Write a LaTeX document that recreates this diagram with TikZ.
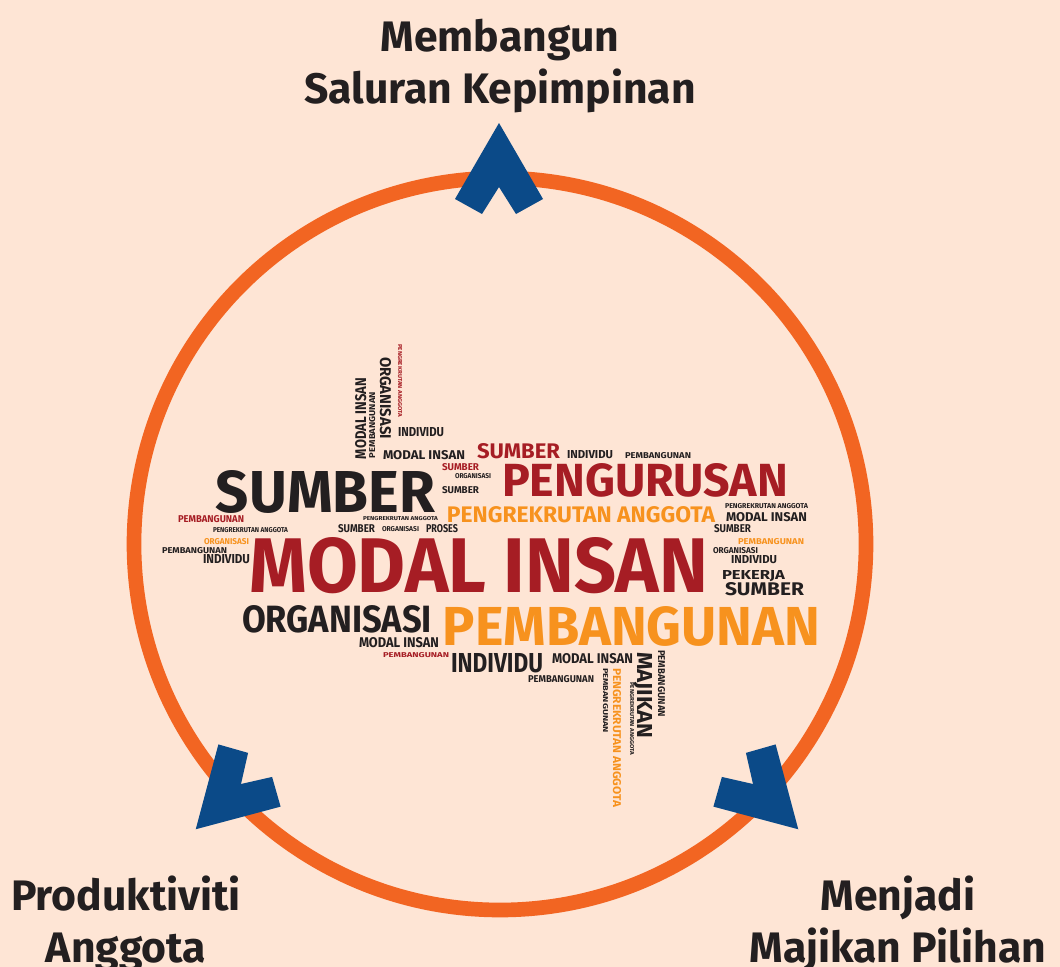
\documentclass[tikz,border=0pt]{standalone}
\usepackage{fontspec}
\setmainfont{Fira Sans}
\usepackage{graphicx}
\definecolor{bgpeach}{HTML}{FEE5D5}
\definecolor{ringorange}{HTML}{F26522}
\definecolor{arrowblue}{HTML}{0B4A88}
\definecolor{cloudred}{HTML}{A61D24}
\definecolor{cloudorange}{HTML}{F7921E}
\definecolor{clouddark}{HTML}{231F20}

\begin{document}
\begin{tikzpicture}[x=0.75pt,y=-0.75pt,
  word/.style={inner sep=0pt,font=\bfseries},
  title/.style={inner sep=0pt,align=center,text=clouddark,font=\bfseries\fontsize{32}{39}\selectfont},
  ring/.style={draw=ringorange,line width=11pt},
  chevron/.style={fill=arrowblue}]
\fill[bgpeach] (0,0) rectangle (1060,967);
\useasboundingbox (0,0) rectangle (1060,967);
% cycle
\draw[ring] (500,544) circle[radius=366];
\foreach \px/\py/\ang in {499/187/0,241/784/135,753/784/-135}
  \fill[chevron,shift={(\px,\py)},rotate=\ang] (0,-64) -- (44,12) -- (17,27) -- (0,0) -- (-17,27) -- (-44,12) -- cycle;
% outcomes
\node[title,anchor=north] (saluran) at (500,19) {Membangun\\Saluran Kepimpinan};
\node[title,anchor=north] (produktiviti) at (126,876) {Produktiviti\\Anggota};
\node[title,anchor=north] (majikan) at (898,876) {Menjadi\\Majikan Pilihan};
% word cloud: left/top/right/bottom of each word
\foreach \nm/\l/\t/\r/\b/\rot/\col/\txt in {
  w1/250/537/708/592/0/cloudred/MODAL INSAN,
  w2/216/470/435/512/0/clouddark/SUMBER,
  w3/502/463/788/496/0/cloudred/PENGURUSAN,
  w4/447/506/715/522/0/cloudorange/PENGREKRUTAN ANGGOTA,
  w5/477/443/560/458/0/cloudred/SUMBER,
  w6/567/450/613/458/0/clouddark/INDIVIDU,
  w7/625/452/691/458/0/clouddark/PEMBANGUNAN,
  w8/383/450/465/459/0/clouddark/MODAL INSAN,
  w9/398/427/444/436/0/clouddark/INDIVIDU,
  w10/442/463/479/470/0/cloudred/SUMBER,
  w11/455/473/491/478/0/clouddark/ORGANISASI,
  w12/442/486/479/493/0/clouddark/SUMBER,
  w13/363/516/438/520/0/clouddark/PENGREKRUTAN ANGGOTA,
  w14/338/524/375/532/0/clouddark/SUMBER,
  w15/382/526/419/531/0/clouddark/ORGANISASI,
  w16/426/524/458/532/0/clouddark/PROSES,
  w17/178/515/244/522/0/cloudred/PEMBANGUNAN,
  w18/213/527/288/532/0/clouddark/PENGREKRUTAN ANGGOTA,
  w19/204/538/249/544/0/cloudorange/ORGANISASI,
  w20/162/547/227/553/0/clouddark/PEMBANGUNAN,
  w21/203/554/250/563/0/clouddark/INDIVIDU,
  w22/725/503/808/508/0/clouddark/PENGREKRUTAN ANGGOTA,
  w23/726/512/807/521/0/clouddark/MODAL INSAN,
  w24/714/524/751/532/0/clouddark/SUMBER,
  w25/738/538/804/544/0/cloudorange/PEMBANGUNAN,
  w26/713/547/758/553/0/clouddark/ORGANISASI,
  w27/731/555/777/563/0/clouddark/INDIVIDU,
  w28/722/570/785/579/0/clouddark/PEKERJA,
  w29/725/582/804/595/0/clouddark/SUMBER,
  w30/242/605/432/632/0/clouddark/ORGANISASI,
  w31/443/606/820/645/0/cloudorange/PEMBANGUNAN,
  w32/359/637/439/647/0/clouddark/MODAL INSAN,
  w33/383/652/449/657/0/cloudred/PEMBANGUNAN,
  w34/451/653/543/672/0/clouddark/INDIVIDU,
  w35/552/653/633/663/0/clouddark/MODAL INSAN,
  w36/528/675/594/682/0/clouddark/PEMBANGUNAN,
  w37/355/378/366/459/90/clouddark/MODAL INSAN,
  w38/369/392/375/458/90/clouddark/PEMBANGUNAN,
  w39/380/357/391/439/-90/clouddark/ORGANISASI,
  w40/398/344/402/417/-90/cloudred/PENGREKRUTAN ANGGOTA,
  w41/637/652/652/738/-90/clouddark/MAJIKAN,
  w42/658/650/665/717/-90/clouddark/PEMBANGUNAN,
  w43/630/682/634/755/-90/clouddark/PENGREKRUTAN ANGGOTA,
  w44/613/668/621/807/-90/cloudorange/PENGREKRUTAN ANGGOTA,
  w45/603/668/608/733/-90/clouddark/PEMBANGUNAN}{
  \ifnum\rot=0
    \pgfmathsetmacro\ww{0.75*(\r-\l)}\pgfmathsetmacro\hh{0.75*(\b-\t)}
  \else
    \pgfmathsetmacro\ww{0.75*(\b-\t)}\pgfmathsetmacro\hh{0.75*(\r-\l)}
  \fi
  \node[word,text=\col,rotate=\rot] (\nm) at ({(\l+\r)/2},{(\t+\b)/2})
    {\resizebox{\ww pt}{\hh pt}{\raisebox{0pt}[\height][0pt]{\txt}}};
}
\end{tikzpicture}
\end{document}
